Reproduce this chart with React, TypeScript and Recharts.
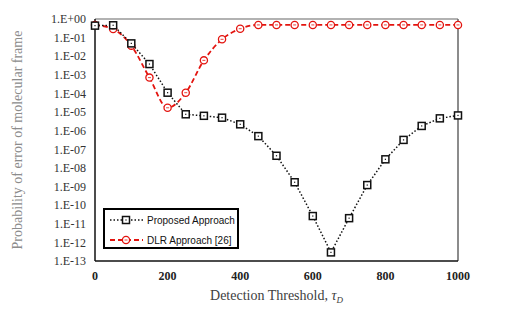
import React from "react"
import { LineChart, Line, XAxis, YAxis, ReferenceLine, Label } from "recharts"

const thresholds = [0, 50, 100, 150, 200, 250, 300, 350, 400, 450, 500, 550, 600, 650, 700, 750, 800, 850, 900, 950, 1000]

const proposed = [
  4.4e-1, 4.6e-1, 4.9e-2, 3.8e-3, 1.1e-4, 7.6e-6, 6.3e-6, 5.0e-6, 2.2e-6, 5.1e-7, 4.5e-8,
  1.7e-9, 2.6e-11, 2.9e-13, 2.0e-11, 1.2e-9, 2.9e-8, 3.2e-7, 1.8e-6, 4.6e-6, 6.6e-6,
]

const dlr = [
  4.8e-1, 2.9e-1, 3.7e-2, 7.1e-4, 1.7e-5, 1.1e-4, 6.0e-3, 8.1e-2, 3.0e-1, 4.8e-1, 4.8e-1,
  4.8e-1, 4.8e-1, 4.8e-1, 4.8e-1, 4.8e-1, 4.8e-1, 4.8e-1, 4.8e-1, 4.8e-1, 4.8e-1,
]

const xTicks = [0, 200, 400, 600, 800, 1000]
const yTicks = [1, 1e-1, 1e-2, 1e-3, 1e-4, 1e-5, 1e-6, 1e-7, 1e-8, 1e-9, 1e-10, 1e-11, 1e-12, 1e-13]

const data = thresholds.map((t, i) => ({ t, proposed: proposed[i], dlr: dlr[i] }))

const RED = "#e3140f"
const SERIF = "'Liberation Serif', 'DejaVu Serif', serif"
const SANS = "'Liberation Sans', Arial, sans-serif"

const fmtExp = (v: number) => {
  const e = Math.round(Math.log10(v))
  return "1.E" + (e >= 0 ? "+" : "-") + String(Math.abs(e)).padStart(2, "0")
}

const SquareDot = (props: any) => {
  const { cx, cy } = props
  if (cx == null || cy == null) return null
  return (
    <g>
      <rect x={cx - 3.5} y={cy - 3.5} width={7} height={7} fill="#fff" stroke="#111" strokeWidth={1.5} />
      <rect x={cx - 0.6} y={cy - 0.6} width={1.2} height={1.2} fill="#111" />
    </g>
  )
}

const CircleDot = (props: any) => {
  const { cx, cy } = props
  if (cx == null || cy == null) return null
  return (
    <g>
      <circle cx={cx} cy={cy} r={3.6} fill="#fff" stroke={RED} strokeWidth={1.3} />
      <line x1={cx - 1.5} y1={cy} x2={cx + 1.5} y2={cy} stroke={RED} strokeWidth={0.8} />
    </g>
  )
}

const LegendBox = () => (
  <div
    style={{
      position: "absolute",
      left: 103,
      top: 208,
      width: 132,
      height: 37,
      border: "2px solid #000",
      background: "#fff",
    }}
  >
    <svg width={132} height={37} style={{ display: "block" }}>
      <line x1={5} y1={10} x2={38} y2={10} stroke="#111" strokeWidth={1.5} strokeDasharray="1.5 2" />
      <SquareDot cx={21} cy={10} />
      <text x={42} y={14} fontFamily={SANS} fontSize={10} fill="#111">
        Proposed Approach
      </text>
      <line x1={5} y1={30} x2={38} y2={30} stroke={RED} strokeWidth={1.8} strokeDasharray="5 3" />
      <CircleDot cx={21} cy={30} />
      <text x={42} y={34} fontFamily={SANS} fontSize={10} fill="#111">
        DLR Approach [26]
      </text>
    </svg>
  </div>
)

const XTitle = (props: any) => {
  const { viewBox } = props
  const cx = viewBox.x + viewBox.width / 2
  return (
    <text x={cx} y={viewBox.y + 39} textAnchor="middle" fontFamily={SERIF} fontSize={14} fill="#404040">
      Detection Threshold, <tspan fontStyle="italic">τ</tspan>
      <tspan fontStyle="italic" fontSize={9} dy={3}>D</tspan>
    </text>
  )
}

const YTitle = () => (
  <text
    x={22}
    y={140}
    transform="rotate(-90 22 140)"
    textAnchor="middle"
    fontFamily={SERIF}
    fontSize={14}
    fill="#8c8c8c"
  >
    Probability of error of molecular frame
  </text>
)

export default function App() {
  return (
    <div style={{ position: "absolute", left: 0, top: 0, width: 512, height: 314, background: "#fff" }}>
      <LineChart width={512} height={314} data={data} margin={{ top: 19, right: 54, bottom: 23, left: 0 }}>
        <XAxis
          dataKey="t"
          type="number"
          domain={[0, 1000]}
          ticks={xTicks}
          height={30}
          tickLine={false}
          tickSize={0}
          tickMargin={10}
          axisLine={{ stroke: "#111", strokeWidth: 1.5 }}
          tick={{ fontFamily: SERIF, fontSize: 12, fontWeight: "bold", fill: "#222" }}
        >
          <Label content={<XTitle />} />
        </XAxis>
        <YAxis
          scale="log"
          domain={[1e-13, 1]}
          ticks={yTicks}
          allowDataOverflow
          width={95}
          interval={0}
          tickLine={false}
          tickSize={0}
          tickMargin={9}
          tickFormatter={fmtExp}
          axisLine={{ stroke: "#111", strokeWidth: 1.5 }}
          tick={{ fontFamily: SERIF, fontSize: 12, fill: "#333" }}
        >
          <Label content={<YTitle />} />
        </YAxis>
        <ReferenceLine y={1} stroke="#666" strokeWidth={1.2} />
        <ReferenceLine x={1000} stroke="#666" strokeWidth={1.5} />
        <Line
          dataKey="dlr"
          type="monotone"
          stroke={RED}
          strokeWidth={1.8}
          strokeDasharray="5 3"
          dot={<CircleDot />}
          isAnimationActive={false}
        />
        <Line
          dataKey="proposed"
          type="linear"
          stroke="#111"
          strokeWidth={1.5}
          strokeDasharray="1.5 2"
          dot={<SquareDot />}
          isAnimationActive={false}
        />
      </LineChart>
      <LegendBox />
    </div>
  )
}
